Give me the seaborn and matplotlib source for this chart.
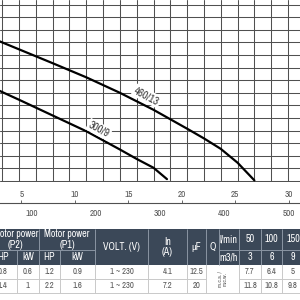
import numpy as np
import pandas as pd
import seaborn as sns
import matplotlib.pyplot as plt
from matplotlib import font_manager
from matplotlib.patches import Rectangle

# pump curves (flow l/min, head m)
flow_460 = [50, 100, 150, 200, 250, 300, 350, 375, 400, 425, 450]
head_460 = [11.55, 10.45, 9.35, 8.23, 7.0, 5.65, 4.15, 3.38, 2.55, 1.45, 0.05]
flow_300 = [50, 100, 150, 200, 250, 275, 300, 320]
head_300 = [7.67, 6.45, 5.2, 3.95, 2.5, 1.75, 1.05, 0.15]

lmin_ticks = [100, 200, 300, 400, 500]
m3h_ticks = [5, 10, 15, 20, 25, 30]

# table
p2_hp = ['0.8', '1.4']
p2_kw = ['0.6', '1']
p1_hp = ['1.2', '2.2']
p1_kw = ['0.9', '1.6']
volt = ['1 ~ 230', '1 ~ 230']
amps = ['4.1', '7.2']
cap = ['12.5', '20']
tab_lmin = ['50', '100', '150']
tab_m3h = ['3', '6', '9']
tab_head = [['7.7', '6.4', '5'], ['11.8', '10.8', '9.8']]

sns.set_style('white')

# look for a narrow face, else fall back to a smaller DejaVu
fam, scale = 'DejaVu Sans', 0.82
for f in font_manager.fontManager.ttflist:
    if 'Narrow' in f.name or 'Condensed' in f.name:
        fam, scale = f.name, 1.2
        break
plt.rcParams['font.family'] = [fam, 'DejaVu Sans']

grid_c = '#505050'
head_c = '#3b4858'
txt_c = '#555555'

fig = plt.figure(figsize=(3, 3), dpi=100)

# ---- curve chart ----
x0, x1 = 71.75, 517.8
px_m = 12.6
ax = fig.add_axes([0, 1 - 182 / 300, 1, 182 / 300])
ax.set_xlim(x0, x1)
ax.set_ylim(-1 / px_m, 181 / px_m)
ax.set_xticks(np.arange(75, 525, 25))
ax.set_yticks(np.arange(0, 15, 1))
ax.grid(True, color=grid_c, lw=0.75)
ax.tick_params(length=0, labelbottom=False, labelleft=False)
for s in ax.spines.values():
    s.set_visible(False)

df460 = pd.DataFrame({'q': flow_460, 'h': head_460})
df300 = pd.DataFrame({'q': flow_300, 'h': head_300})
sns.lineplot(data=df460, x='q', y='h', ax=ax, color='black', lw=1.6)
sns.lineplot(data=df300, x='q', y='h', ax=ax, color='black', lw=1.6)
ax.set_xlabel('')
ax.set_ylabel('')

lab = dict(ha='center', va='center', rotation=-28, rotation_mode='anchor',
           fontsize=6.5 * scale, color='#333333',
           bbox=dict(facecolor='white', edgecolor='none', pad=1.0))
ax.text(290, 6.75, '460/13', **lab)
ax.text(219, 4.1, '300/9', **lab)

# ---- flow axis ----
axf = fig.add_axes([0, 1 - 203 / 300, 1, 0.001])
axf.set_xlim(x0, x1)
axf.set_yticks([])
axf.set_facecolor('none')
for k in ['top', 'left', 'right']:
    axf.spines[k].set_visible(False)
axf.spines['bottom'].set_color(grid_c)
axf.spines['bottom'].set_linewidth(0.8)
axf.set_xticks(lmin_ticks)
axf.set_xticks(np.arange(50, 550, 50), minor=True)
axf.tick_params(axis='x', which='both', length=2, width=0.6, color=grid_c,
                labelsize=5.5 * scale, labelcolor=txt_c, pad=2.0)
sec = axf.secondary_xaxis('top', functions=(lambda q: q * 0.06, lambda m: m / 0.06))
sec.set_xticks(m3h_ticks)
sec.spines['top'].set_visible(False)
sec.tick_params(length=2, width=0.6, color=grid_c, labelsize=5.5 * scale,
                labelcolor=txt_c, pad=1.0)

# ---- table ----
axt = fig.add_axes([0, 0, 1, 1])
axt.set_xlim(0, 300)
axt.set_ylim(300, 0)
axt.axis('off')

e = [-12, 17, 39, 60, 95, 148, 187, 206, 219, 239, 261, 282, 304]
yt, ym, yb = 229, 250, 265
rows = [265, 279, 293]
cx = [(e[i] + e[i + 1]) / 2 for i in range(len(e) - 1)]

axt.add_patch(Rectangle((-20, yt), 340, yb - yt, color=head_c, lw=0))
hl = dict(color='#8a95a3', lw=0.7)
axt.vlines([e[2], e[4], e[5], e[6], e[7], e[8], e[9], e[10], e[11]], yt, yb, **hl)
axt.vlines([e[1], e[3]], ym, yb, **hl)
axt.hlines(ym, e[0], e[4], **hl)
axt.hlines(ym, e[8], e[12], **hl)

ht = dict(ha='center', va='center', color='white', fontsize=6 * scale,
          fontweight='bold', linespacing=1.1)
axt.text((e[0] + e[2]) / 2 + 2, (yt + ym) / 2, 'Motor power\n(P2)', **ht)
axt.text((e[2] + e[4]) / 2, (yt + ym) / 2, 'Motor power\n(P1)', **ht)
for i, t in enumerate(['HP', 'kW', 'HP', 'kW']):
    axt.text(cx[i], (ym + yb) / 2, t, **ht)
mid = (yt + yb) / 2
axt.text(cx[4], mid, 'VOLT. (V)', **ht)
axt.text(cx[5], mid, 'In\n(A)', **ht)
axt.text(cx[6], mid, 'μF', **ht)
axt.text(cx[7], mid, 'Q', **ht)
axt.text(cx[8], (yt + ym) / 2, 'l/min', **ht)
axt.text(cx[8], (ym + yb) / 2, 'm3/h', **ht)
for j in range(3):
    axt.text(cx[9 + j], (yt + ym) / 2, tab_lmin[j], **ht)
    axt.text(cx[9 + j], (ym + yb) / 2, tab_m3h[j], **ht)

dl = dict(color='#c9c9c9', lw=0.7)
axt.hlines(rows[1], e[0], e[7], **dl)
axt.hlines(rows[1], e[9], e[12], **dl)
axt.hlines(rows[2], e[0], e[12], **dl)
axt.vlines([e[i] for i in range(1, 12) if i != 8], rows[0], rows[2], **dl)

dt = dict(ha='center', va='center', color=txt_c, fontsize=5.2 * scale)
for r in range(2):
    yc = (rows[r] + rows[r + 1]) / 2
    vals = [p2_hp[r], p2_kw[r], p1_hp[r], p1_kw[r], volt[r], amps[r], cap[r]]
    for i, v in enumerate(vals):
        axt.text(cx[i], yc, v, **dt)
    for j in range(3):
        axt.text(cx[9 + j], yc, tab_head[r][j], **dt)
axt.text((e[7] + e[9]) / 2, (rows[0] + rows[2]) / 2, 'm.c.a. /\nm.c.w.',
         rotation=90, ha='center', va='center', color=txt_c, fontsize=4.2,
         linespacing=1.0)

fig.savefig('out.png', dpi=100)
